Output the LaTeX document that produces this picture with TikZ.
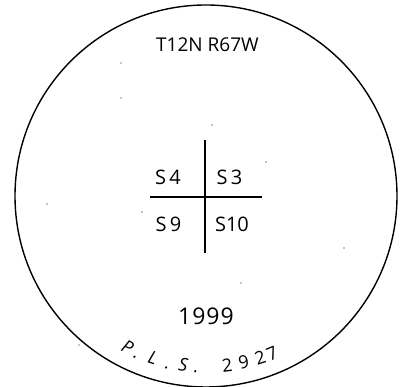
\documentclass[tikz,border=0pt]{standalone}
\usepackage{fontspec}
\setmainfont{Open Sans}
\usetikzlibrary{calc}
\begin{document}
\begin{tikzpicture}[x=1pt,y=1pt,
  lbl/.style={inner sep=0pt, anchor=base, font=\fontsize{20}{24}\selectfont},
  arcch/.style={inner sep=0pt, anchor=base, font=\fontsize{18}{22}\selectfont},
  speck/.style={fill=black, draw=none}]
\useasboundingbox (0,0) rectangle (402,387);
\coordinate (c) at (206,191);
\draw[line width=1.4pt] (c) circle (191);
% cross
\coordinate (vt) at (205,247);
\coordinate (vb) at (205,134);
\coordinate (hl) at (150,190);
\coordinate (hr) at (262,190);
\draw[line width=1.1pt] (vt) -- (vb);
\draw[line width=1.1pt] (hl) -- (hr);
% texts
\node[lbl, font=\fontsize{19}{23}\selectfont] (title) at (207.5,335) {T12N R67W};
\node[lbl] (s4) at (168,202) {S\,4};
\node[lbl] (s3) at (229.5,202) {S\,3};
\node[lbl] (s9) at (168.5,155) {S\,9};
\node[lbl] (s10) at (232,155) {S10};
\node[lbl, font=\fontsize{23}{27}\selectfont] (year) at (206,62) {1\kern1pt9\kern1pt9\kern1pt9};
% arc text
\foreach \ch/\ang/\nm in {P/242.6/a1, ./246.3/a2, L/251.9/a3, ./257.2/a4, S/262.3/a5, ./266.8/a6}
  \node[arcch, font=\fontsize{18}{22}\selectfont\itshape, rotate=\ang+90] (\nm) at ($(c)+(\ang:177)$) {\ch};
\foreach \ch/\ang/\nm in {2/277.1/b1, 9/282.8/b2, 2/288.5/b3, 7/292.8/b4}
  \node[arcch, rotate=\ang+90] (\nm) at ($(c)+(\ang:177)$) {\ch};
% specks
\foreach \p/\nm in {(121,324)/d1, (121,289)/d2, (212,262)/d3, (266,225)/d4, (47,183)/d5, (142,175)/d6, (344,139)/d7, (241,104)/d8, (79,42)/d9}
  \fill[speck] \p circle (0.7);
\end{tikzpicture}
\end{document}
